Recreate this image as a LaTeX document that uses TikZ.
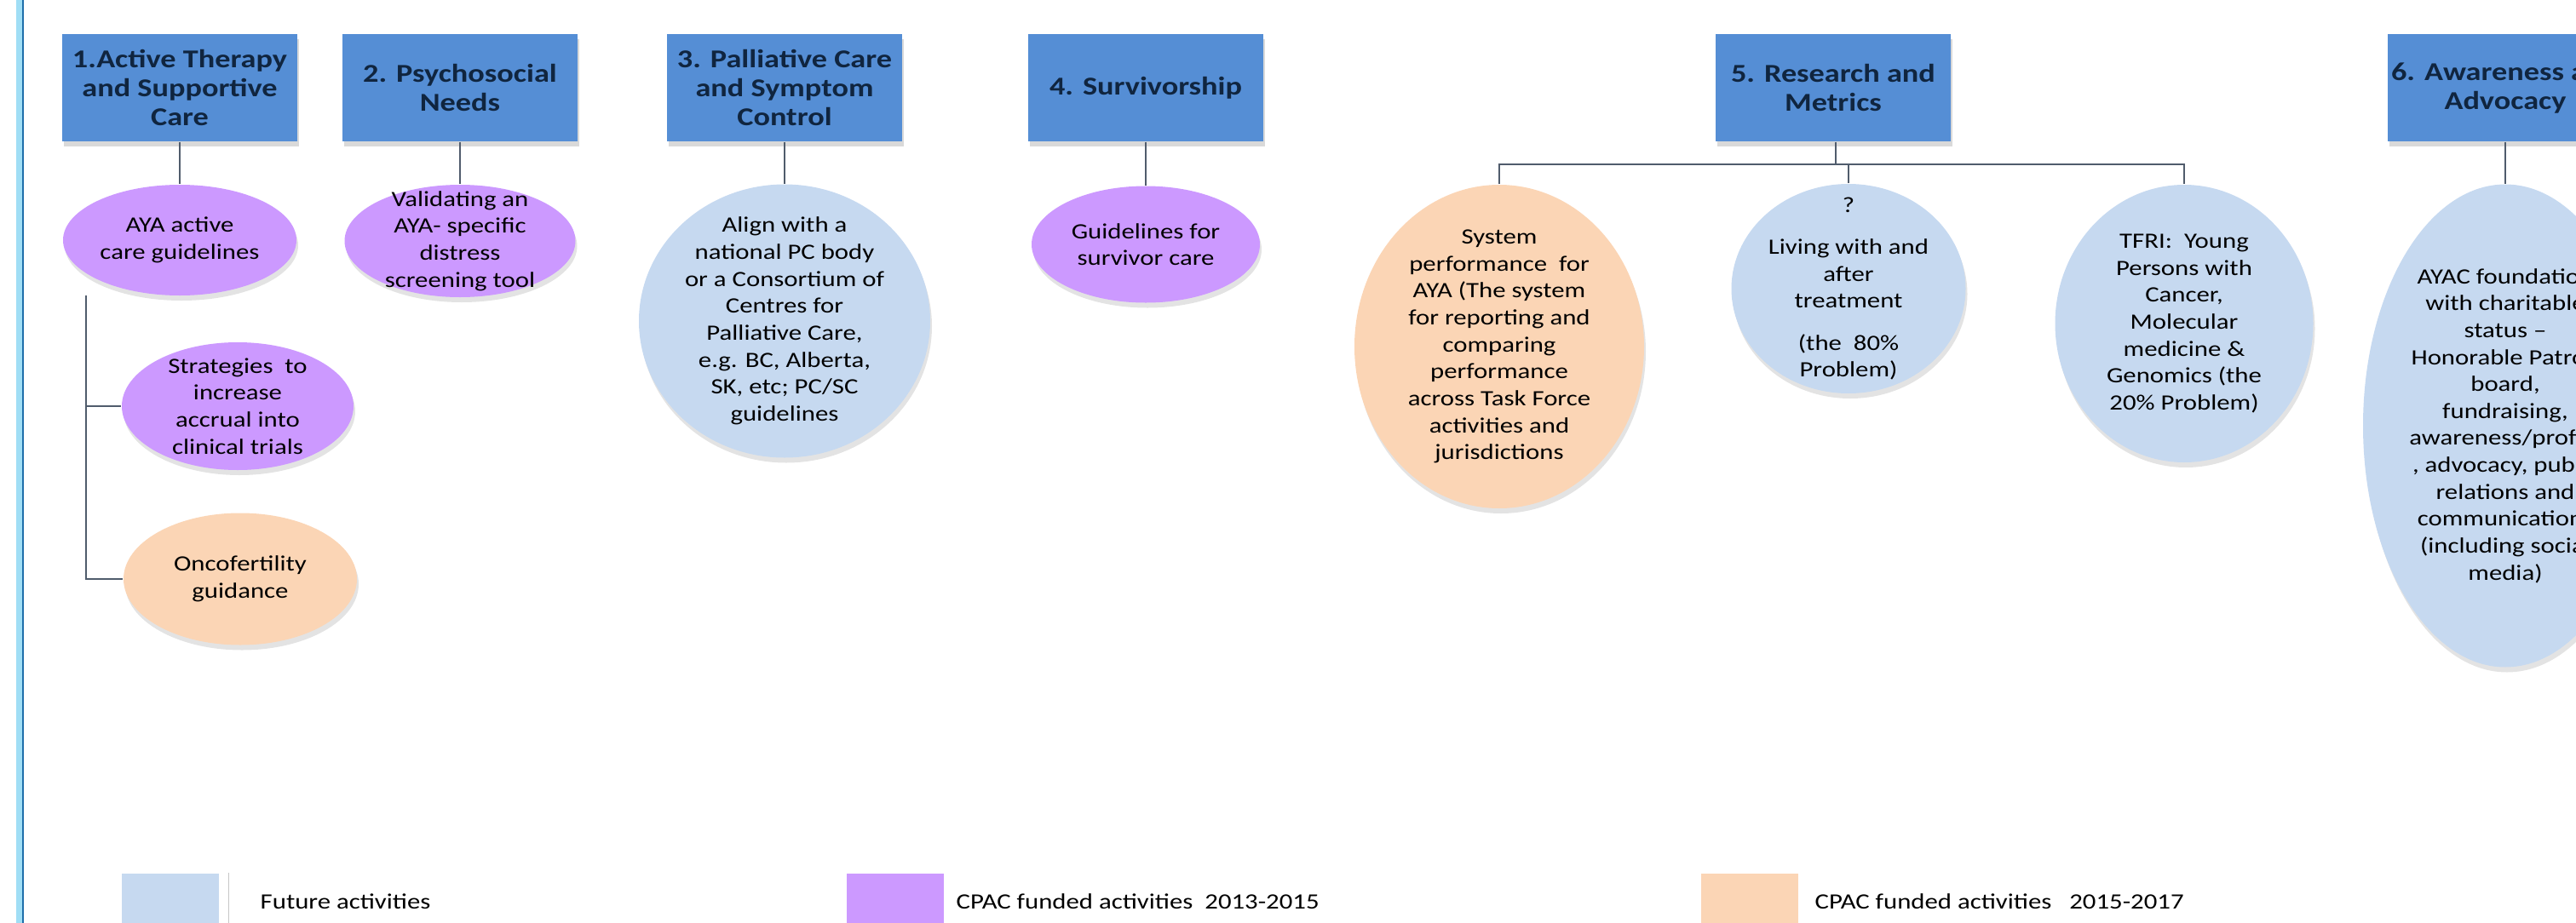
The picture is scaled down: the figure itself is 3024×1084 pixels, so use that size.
\documentclass[tikz,border=0pt]{standalone}
\usepackage{fontspec}
\setmainfont[FakeStretch=1.2]{Carlito}
\usepackage{tikz}
\usetikzlibrary{shapes.geometric, shadows, positioning}

\definecolor{boxblue}{RGB}{85,142,213}
\definecolor{boxtext}{RGB}{16,37,63}
\definecolor{futurecol}{RGB}{198,217,240}
\definecolor{fundAcol}{RGB}{204,153,255}
\definecolor{fundBcol}{RGB}{251,213,181}
\definecolor{linkcol}{RGB}{80,92,108}
\definecolor{bordercyan}{RGB}{160,222,245}
\definecolor{borderblue}{RGB}{30,110,170}

\tikzset{
areabox/.style={ % Blue heading box of each priority area
    rectangle, fill=boxblue, text=boxtext,
    font=\bfseries\fontsize{8.6}{9.6}\selectfont,
    align=center, inner sep=0pt,
    minimum width=27.6mm, minimum height=12.6mm,
    drop shadow={shadow xshift=0.2mm, shadow yshift=-0.6mm, opacity=0.3}},
activity/.style={ % Ellipse of an activity, text is put on top of it
    ellipse, inner sep=0pt,
    drop shadow={shadow xshift=0.2mm, shadow yshift=-0.6mm, opacity=0.22}},
acttext/.style={ % Text inside the ellipses and of the key
    align=center, inner sep=0pt, text=black,
    font=\fontsize{7.3}{9}\selectfont},
futureact/.style={activity, fill=futurecol},
fundedA/.style={activity, fill=fundAcol},
fundedB/.style={activity, fill=fundBcol},
keybox/.style={rectangle, inner sep=0pt, minimum height=6mm},
link/.style={draw=linkcol, line width=0.27mm},
every edge/.style={link} % Plain connectors, no arrow heads
}

\begin{document}
\begin{tikzpicture}[x=0.1mm, y=-0.1mm]

    \useasboundingbox (0,0) rectangle (3024,1084);
    \clip (0,0) rectangle (3024,1084);

    % frame line on the left
    \fill[bordercyan] (19,0) rectangle (26,1084);
    \draw[borderblue, line width=0.2mm] (27,0) -- (27,1084);

    % priority areas
    \node[areabox] (R1) at (211,103) {1.Active Therapy\\and Supportive\\Care};
    \node[areabox] (R2) at (540,103) {2. Psychosocial\\Needs};
    \node[areabox] (R3) at (921,103) {3. Palliative Care\\and Symptom\\Control};
    \node[areabox] (R4) at (1345,103) {4. Survivorship};
    \node[areabox] (R5) at (2152,103) {5. Research and\\Metrics};
    \node[areabox] (R6) at (2941,103) {6. Awareness and\\Advocacy};

    % activities
    \node[fundedA, minimum width=27.4mm, minimum height=13mm] (E1a) at (211,282) {};
    \node[fundedA, minimum width=27.2mm, minimum height=15mm] (E1b) at (279,477) {};
    \node[fundedB, minimum width=27.4mm, minimum height=15.5mm] (E1c) at (282,680) {};
    \node[fundedA, minimum width=27.1mm, minimum height=13.2mm] (E2) at (540,283) {};
    \node[futureact, minimum width=34.2mm, minimum height=32.1mm] (E3) at (921,377) {};
    \node[fundedA, minimum width=26.8mm, minimum height=13.7mm] (E4) at (1345,287) {};
    \node[fundedB, minimum width=34mm, minimum height=38mm] (E5a) at (1760,407) {};
    \node[futureact, minimum width=27.5mm, minimum height=24.6mm] (E5b) at (2170,339) {};
    \node[futureact, minimum width=30.3mm, minimum height=32.6mm] (E5c) at (2564,380) {};
    \node[futureact, minimum width=33.4mm, minimum height=56.7mm] (E6) at (2941,500) {};

    \node[acttext] (T1a) at (E1a) {AYA active\\care guidelines};
    \node[acttext] (T1b) at (E1b) {Strategies\ \ to\\increase\\accrual into\\clinical trials};
    \node[acttext] (T1c) at (E1c) {Oncofertility\\guidance};
    \node[acttext] (T2) at (E2) {Validating an\\AYA- specific\\distress\\screening tool};
    \node[acttext] (T3) at (E3) {Align with a\\national PC body\\or a Consortium of\\Centres for\\Palliative Care,\\e.g. BC, Alberta,\\SK, etc; PC/SC\\guidelines};
    \node[acttext] (T4) at (E4) {Guidelines for\\survivor care};
    \node[acttext] (T5a) at (E5a) {System\\performance\ \ for\\AYA (The system\\for reporting and\\comparing\\performance\\across Task Force\\activities and\\jurisdictions};
    \node[acttext] (T5b) at (E5b) {?\\[5pt]Living with and\\after\\treatment\\[5pt](the\ \ 80\%\\Problem)};
    \node[acttext] (T5c) at (E5c) {TFRI:\ \ Young\\Persons with\\Cancer,\\Molecular\\medicine \&\\Genomics (the\\20\% Problem)};
    \node[acttext] (T6) at (E6) {AYAC foundation\\with charitable\\status --\\Honorable Patron\\board,\\fundraising,\\awareness/profile\\, advocacy, public\\relations and\\communications\\(including social\\media)};

    % connectors
    \draw (R1) edge (E1a);
    \draw (R2) edge (E2);
    \draw (R3) edge (E3);
    \draw (R4) edge (E4);
    \draw (R6) edge (E6);

    \coordinate (stem1) at (101,347);
    \draw[link] (stem1) |- (E1b.west);
    \draw[link] (stem1) |- (E1c.west);

    \coordinate (hub5) at (2155,193);
    \draw[link] (R5.south -| hub5) -- (hub5);
    \draw[link] (E5a.north) |- (hub5) -| (E5c.north);
    \draw[link] (E5b.north) -- (E5b.north |- hub5);

    % key
    \node[keybox, fill=futurecol, minimum width=11.4mm, anchor=north west] (K1) at (142,1025) {};
    \draw[gray!45, line width=0.1mm] (268,1025) -- (268,1084);
    \node[acttext, anchor=west] (K1text) at (305,1059) {Future activities};
    \node[keybox, fill=fundAcol, minimum width=11.4mm, anchor=north west] (K2) at (993,1025) {};
    \node[acttext, anchor=west] (K2text) at (1122,1059) {CPAC funded activities\ \ 2013-2015};
    \node[keybox, fill=fundBcol, minimum width=11.4mm, anchor=north west] (K3) at (1996,1025) {};
    \node[acttext, anchor=west] (K3text) at (2130,1059) {CPAC funded activities\ \ \ 2015-2017};

\end{tikzpicture}
\end{document}
